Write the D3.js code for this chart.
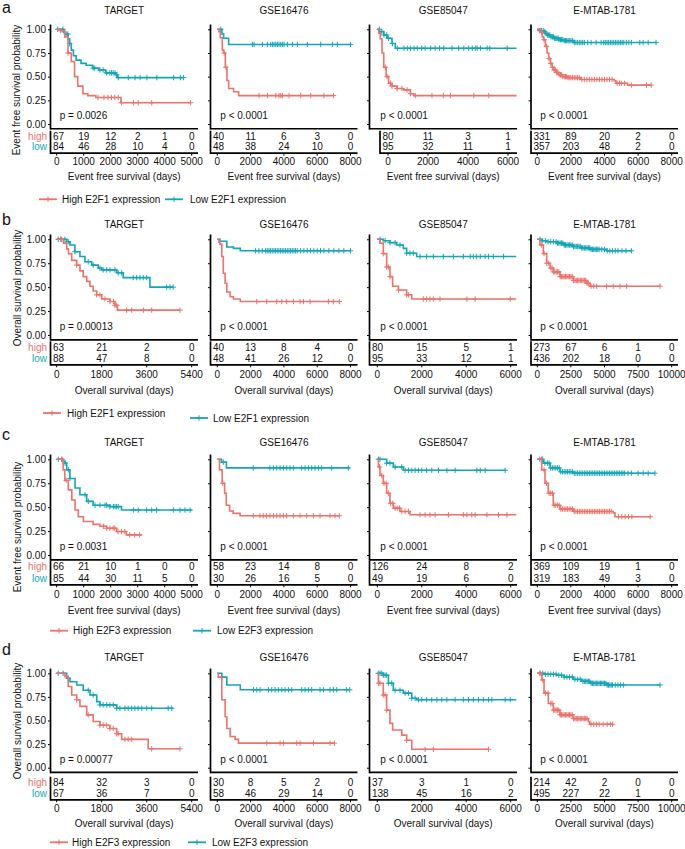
<!DOCTYPE html>
<html><head><meta charset="utf-8">
<script src="https://cdn.jsdelivr.net/npm/d3@7"></script>
<style>body{margin:0;background:#fff} text{font-family:"Liberation Sans",Arial,sans-serif;fill:#111}</style>
</head><body><svg id="c" width="685" height="849"></svg>
<script>
// ---------------- DATA ----------------
const datasets = ["TARGET","GSE16476","GSE85047","E-MTAB-1781"];
const rowLetters = ["a","b","c","d"];
const yTitles = ["Event free survival probability","Overall survival probability","Event free survival probability","Overall survival probability"];
const xTitles = ["Event free survival (days)","Overall survival (days)","Event free survival (days)","Overall survival (days)"];
const legendHigh = ["High E2F1 expression","High E2F1 expression","High E2F3 expression","High E2F3 expression"];
const legendLow = ["Low E2F1 expression","Low E2F1 expression","Low E2F3 expression","Low E2F3 expression"];
const pA = ["p = 0.0026","p < 0.0001","p < 0.0001","p < 0.0001"];
const pB = ["p = 0.00013","p < 0.0001","p < 0.0001","p < 0.0001"];
const pC = ["p = 0.0031","p < 0.0001","p < 0.0001","p < 0.0001"];
const pD = ["p = 0.00077","p < 0.0001","p < 0.0001","p < 0.0001"];
const yTicks = [0,0.25,0.5,0.75,1];

const ticksEFS_T = [0,1000,2000,3000,4000,5000];
const ticksOS_T = [0,1800,3600,5400];
const ticks8k = [0,2000,4000,6000,8000];
const ticks6k = [0,2000,4000,6000];
const ticks10k = [0,2500,5000,7500,10000];

// risk tables
const riskA1 = {high:[67,19,12,2,1,0], low:[84,46,28,10,4,0]};
const riskA2 = {high:[40,11,6,3,0], low:[48,38,24,10,0]};
const riskA3 = {high:[80,11,3,1], low:[95,32,11,1]};
const riskA4 = {high:[331,89,20,2,0], low:[357,203,48,2,0]};
const riskB1 = {high:[63,21,2,0], low:[88,47,8,0]};
const riskB2 = {high:[40,13,8,4,0], low:[48,41,26,12,0]};
const riskB3 = {high:[80,15,5,1], low:[95,33,12,1]};
const riskB4 = {high:[273,67,6,1,0], low:[436,202,18,0,0]};
const riskC1 = {high:[66,21,10,1,0,0], low:[85,44,30,11,5,0]};
const riskC2 = {high:[58,23,14,8,0], low:[30,26,16,5,0]};
const riskC3 = {high:[126,24,8,2], low:[49,19,6,0]};
const riskC4 = {high:[369,109,19,1,0], low:[319,183,49,3,0]};
const riskD1 = {high:[84,32,3,0], low:[67,36,7,0]};
const riskD2 = {high:[30,8,5,2,0], low:[58,46,29,14,0]};
const riskD3 = {high:[37,3,1,0], low:[138,45,16,2]};
const riskD4 = {high:[214,42,2,0,0], low:[495,227,22,1,0]};

// KM steps [time, survival after time]; last time of follow-up; censor times
const A1H = [[0,1],[150,0.985],[300,0.92],[420,0.75],[540,0.66],[660,0.50],[780,0.40],[970,0.32],[1150,0.30],[1450,0.28],[2380,0.225]];
const A1H_end = 4960, A1H_cens = [150,420,1530,1750,1900,2030,2150,2280,2400,2840,3020,3520,4960];
const A1L = [[0,1],[250,0.97],[300,0.95],[420,0.90],[480,0.85],[540,0.78],[620,0.72],[720,0.675],[900,0.64],[1090,0.62],[1330,0.59],[1560,0.57],[1810,0.54],[2180,0.52],[2240,0.49]];
const A1L_end = 4700, A1L_cens = [40,230,350,410,480,1350,1410,1600,1720,1850,1970,2030,2090,2160,2220,2280,2650,2900,3090,3340,3710,4330,4580,4700];
const A2H = [[0,1],[100,0.975],[180,0.91],[300,0.78],[380,0.75],[480,0.60],[580,0.46],[680,0.375],[980,0.34],[1280,0.30]];
const A2H_end = 6980, A2H_cens = [410,510,2510,3010,3510,3710,3810,3910,4310,5010,5610,6400,6980];
const A2L = [[0,1],[280,0.95],[380,0.905],[680,0.84]];
const A2L_end = 8000, A2L_cens = [210,2110,2210,2710,3010,3210,3310,3410,3510,3610,3710,3810,3910,4010,4210,4510,4810,5410,6210,6910,7210,8000];
const A3H = [[0,1],[60,0.96],[135,0.90],[210,0.75],[290,0.60],[400,0.50],[510,0.43],[660,0.40],[890,0.375],[1180,0.36],[1490,0.32],[1640,0.30]];
const A3H_end = 6260, A3H_cens = [360,440,590,660,890,1110,1340,1490,1710,2460,2970,3290,4340,5010];
const A3L = [[0,1],[100,0.975],[290,0.94],[440,0.905],[660,0.85],[810,0.80]];
const A3L_end = 6260, A3L_cens = [90,200,300,420,500,680,900,1200,1350,1500,1650,1800,2000,2150,2400,2600,2800,2990,3360,3660,3890,4110,4270,4410,4490,4640,4940,5060,5840];
const A4H = [[0,1],[180,0.97],[300,0.92],[380,0.89],[480,0.82],[580,0.75],[680,0.69],[780,0.64],[880,0.60],[980,0.57],[1130,0.545],[1280,0.52],[1500,0.50],[1780,0.49],[2580,0.47],[4580,0.457],[4680,0.43],[5380,0.41]];
const A4H_end = 6780, A4H_cens = [250,400,550,700,800,900,1000,1080,1150,1220,1300,1380,1450,1520,1600,1680,1750,1830,1900,2000,2100,2200,2300,2400,2500,2650,2800,2950,3100,3250,3400,3550,3700,3850,4000,4150,4300,4450,4750,4900,5000,5200,5600,6500,6780];
const A4L = [[0,1],[150,0.985],[380,0.975],[480,0.955],[580,0.94],[780,0.92],[980,0.905],[1280,0.89],[1580,0.88],[2180,0.86]];
const A4L_end = 7070, A4L_cens = [150,250,350,450,520,600,680,750,820,900,960,1030,1100,1170,1240,1300,1380,1450,1520,1600,1680,1750,1830,1900,2000,2100,2200,2300,2400,2500,2600,2700,2800,3000,3200,3500,3800,3950,4050,4150,4250,4350,4450,4550,4650,4750,4850,4950,5050,5150,5300,5450,5600,6100,6300,6600,7070];

const B1H = [[0,1],[270,0.96],[400,0.90],[470,0.85],[600,0.78],[800,0.73],[930,0.67],[1060,0.61],[1200,0.56],[1330,0.51],[1460,0.46],[1600,0.42],[1800,0.376],[2130,0.35],[2330,0.31],[2430,0.26]];
const B1H_end = 4930, B1H_cens = [150,800,1600,1730,1930,2130,2270,2330,2400,2800,3000,3470,3800,4930];
const B1L = [[0,1],[400,0.975],[530,0.94],[730,0.87],[930,0.82],[1130,0.766],[1400,0.73],[1660,0.70],[1800,0.68],[2400,0.65],[2660,0.60],[3730,0.50]];
const B1L_end = 4660, B1L_cens = [60,200,330,460,730,1260,1460,1730,1860,2000,2130,2330,2460,2600,3060,3200,3330,3460,3600,4400,4530,4660];
const B2H = [[0,1],[100,0.97],[160,0.95],[270,0.82],[360,0.645],[470,0.54],[570,0.45],[770,0.40],[970,0.376],[1380,0.35]];
const B2H_end = 7330, B2H_cens = [2370,2970,3570,3870,4170,4570,4970,5170,5570,6670,6970,7330];
const B2L = [[0,1],[160,0.98],[570,0.92],[970,0.905],[1380,0.88]];
const B2L_end = 8000, B2L_cens = [2300,2500,2700,2900,3000,3100,3200,3300,3400,3500,3600,3700,3800,3900,4000,4100,4200,4300,4400,4500,4600,4700,4800,5000,5200,5400,5600,5800,6000,6200,6400,6700,7000,7300,7600,8000];
const B3H = [[0,1],[120,0.96],[270,0.85],[420,0.71],[570,0.61],[690,0.51],[950,0.47],[1320,0.42],[1550,0.376]];
const B3H_end = 6250, B3H_cens = [270,420,495,570,950,1320,1400,2070,2220,2370,2520,2820,4030,4400,5980];
const B3L = [[0,1],[270,0.985],[570,0.965],[870,0.94],[1170,0.905],[1320,0.855],[1770,0.82]];
const B3L_end = 6250, B3L_cens = [120,350,570,800,1020,1320,1470,1620,1920,2220,2520,2970,3420,3870,4180,4320,4470,4630,4850,5000,5220,5680];
const B4H = [[0,1],[200,0.94],[450,0.85],[700,0.75],[950,0.70],[1190,0.66],[1690,0.61],[2680,0.57],[3680,0.54],[3920,0.51]];
const B4H_end = 9130, B4H_cens = [300,500,700,850,1000,1100,1200,1300,1400,1500,1600,1700,1800,1900,2000,2100,2200,2300,2400,2500,2600,2700,2800,2900,3000,3100,3200,3300,3400,3500,3600,3700,3800,4000,4200,4420,5160,5650,6150,6650,9130];
const B4L = [[0,1],[300,0.985],[700,0.975],[1440,0.96],[2000,0.94],[2680,0.925],[3300,0.91],[3920,0.895],[5160,0.88]];
const B4L_end = 7000, B4L_cens = [200,400,600,800,1000,1200,1400,1500,1600,1700,1800,1900,2000,2100,2200,2300,2400,2500,2600,2700,2800,2900,3000,3100,3200,3300,3400,3500,3600,3700,3800,3900,4000,4100,4200,4300,4400,4500,4600,4800,5000,5200,5400,5600,5800,6000,6300,6600,7000];

const C1H = [[0,1],[240,0.89],[300,0.78],[430,0.68],[560,0.575],[680,0.47],[800,0.40],[990,0.35],[1350,0.32],[1600,0.30],[1850,0.28],[2220,0.245],[2580,0.21]];
const C1H_end = 3150, C1H_cens = [200,350,1730,1850,1970,2090,2150,2270,2400,2520,2700,2890,3070];
const C1L = [[0,1],[200,0.98],[310,0.96],[370,0.89],[490,0.80],[680,0.70],[860,0.63],[1110,0.56],[1350,0.52],[1970,0.505],[2400,0.47]];
const C1L_end = 5000, C1L_cens = [60,190,310,430,490,1050,1170,1420,1600,1790,1850,1970,2100,2160,2220,2280,2840,3020,3330,3520,3700,4320,4570,4750,4940];
const C2H = [[0,1],[130,0.89],[290,0.75],[440,0.645],[540,0.52],[740,0.46],[950,0.435],[1370,0.41]];
const C2H_end = 7330, C2H_cens = [330,2160,2560,2760,2960,3160,3370,3570,3770,3970,4170,4570,4970,5370,5770,6170,6770,7070,7330];
const C2L = [[0,1],[250,0.97],[550,0.91]];
const C2L_end = 7950, C2L_cens = [360,2160,3160,3370,3570,3770,3970,4170,4370,4570,5070,5270,5470,5670,5870,6070,6270,6870,7870];
const C3H = [[0,1],[50,0.92],[120,0.83],[270,0.75],[420,0.645],[570,0.54],[720,0.49],[1020,0.455],[1470,0.42]];
const C3H_end = 6250, C3H_cens = [100,200,300,400,500,600,700,800,900,1000,1100,1250,1400,1920,2150,2370,2600,3200,3870,4030,4250,4400,4930,5450,5830];
const C3L = [[0,1],[420,0.96],[720,0.92],[1170,0.885]];
const C3L_end = 5750, C3L_cens = [50,120,420,570,800,1100,1250,1400,1550,1700,1850,2000,2220,2450,2750,3130,3500,4480,4630,4850,5750];
const C4H = [[0,1],[260,0.89],[460,0.75],[650,0.645],[950,0.52],[1350,0.48],[2140,0.455],[4520,0.44],[4620,0.40]];
const C4H_end = 6740, C4H_cens = [250,400,550,700,800,900,1000,1100,1200,1300,1400,1500,1600,1700,1800,1900,2000,2100,2200,2300,2400,2500,2600,2700,2800,2900,3000,3100,3200,3300,3400,3500,3600,3700,3800,3900,4000,4100,4200,4300,4400,4830,5030,5230,5430,5630,6720];
const C4L = [[0,1],[360,0.96],[760,0.91],[1350,0.87],[2140,0.855]];
const C4L_end = 7000, C4L_cens = [150,300,450,600,700,800,900,1000,1100,1200,1300,1400,1500,1600,1700,1800,1900,2000,2100,2200,2300,2400,2500,2600,2700,2800,2900,3000,3100,3200,3300,3400,3500,3600,3700,3800,3900,4000,4100,4200,4300,4400,4500,4600,4700,4800,4900,5000,5100,5200,5400,5600,6000,6300,6600,7000];

const D1H = [[0,1],[330,0.965],[460,0.86],[600,0.77],[800,0.72],[930,0.65],[1200,0.56],[1460,0.49],[1730,0.45],[2130,0.415],[2400,0.36],[2600,0.30],[3660,0.20]];
const D1H_end = 4930, D1H_cens = [800,1260,1730,1860,2000,2130,2260,2400,2460,2730,2860,3000,3800,4930];
const D1L = [[0,1],[400,0.947],[530,0.91],[800,0.876],[1060,0.82],[1330,0.77],[1600,0.70],[1730,0.665],[2400,0.63]];
const D1L_end = 4660, D1L_cens = [60,260,460,1260,1460,1730,1860,2000,2130,2260,2400,2530,2730,2860,3000,3130,3260,3400,3600,3800,4460,4600];
const D2H = [[0,1],[60,0.96],[270,0.72],[470,0.54],[570,0.415],[770,0.33],[1070,0.30],[1270,0.26]];
const D2H_end = 7030, D2H_cens = [2970,3770,3970,4770,4970,5770,6770,7030];
const D2L = [[0,1],[270,0.96],[570,0.876],[1380,0.825]];
const D2L_end = 7950, D2L_cens = [270,2170,2370,2570,3070,3270,3470,3670,3870,4070,4270,4470,5070,5270,5470,5670,6170,6370,6770,6970,7170,7770,7950];
const D3H = [[0,1],[50,0.895],[270,0.77],[420,0.61],[570,0.47],[690,0.40],[1100,0.345],[1320,0.29],[1550,0.195]];
const D3H_end = 5000, D3H_cens = [50,120,270,350,420,1320,2150,2520,5000];
const D3L = [[0,1],[270,0.98],[500,0.895],[720,0.82],[1170,0.79],[1550,0.735],[1770,0.72]];
const D3L_end = 6250, D3L_cens = [45,120,200,270,350,420,500,650,800,1020,1250,1400,1550,1700,1850,2000,2220,2450,2680,2900,3130,3500,3870,4100,4320,4550,4770,5000,5150,5750,5980];
const D4H = [[0,1],[330,0.93],[500,0.79],[820,0.68],[1190,0.61],[1690,0.56],[2680,0.52],[3800,0.49],[3900,0.46]];
const D4H_end = 5600, D4H_cens = [200,400,600,800,1000,1100,1200,1300,1400,1500,1600,1700,1800,1900,2000,2100,2200,2300,2400,2500,2600,2700,2800,2900,3000,3100,3200,3300,3400,3500,3600,3700,4000,4200,4400,4600,4900,5200,5450,5600];
const D4L = [[0,1],[500,0.99],[1440,0.98],[2000,0.96],[2680,0.936],[3300,0.915],[3920,0.894],[5160,0.876]];
const D4L_end = 9130, D4L_cens = [200,400,600,800,1000,1200,1400,1600,1800,2000,2200,2400,2600,2800,3000,3200,3400,3500,3600,3700,3800,3900,4000,4100,4200,4300,4400,4500,4600,4700,4800,4900,5000,5100,5200,5300,5400,5500,5600,5800,6000,6200,6400,9130];

// ---------------- LAYOUT ----------------
const RED = "#EA736B", TEAL = "#15A6B5";
const COLS = [
  {x0:50.5, x1:198, z:56.7, l:191.7},
  {x0:210.5, x1:357.5, z:217.3, l:350.5},
  {x0:369.5, x1:517, z:377.3, l:510.7},
  {x0:531, x1:678, z:537.3, l:671.7}
];
// table scale that differs from the plot scale (row a, GSE85047)
const tableOverride = {"0-2": {x0:380, z:388, l:508}};
const ROWS = [
  {letterY:13, title:10, y1:29.3, y0:124, hi:136.7, lo:146.7, tick:161.7, xt:176.7, legY:[199.3,199.3], legX:[39,62,165,190], ytY:90, ytX:16},
  {letterY:225, title:224, y1:239.3, y0:335, hi:347.3, lo:358.3, tick:374, xt:390, legY:[413,418], legX:[43,67,190,213], ytY:288, ytX:17},
  {letterY:440, title:442.7, y1:459.3, y0:555, hi:566.7, lo:578.3, tick:594, xt:610, legY:[630.7,630.7], legX:[50,73,193,217], ytY:527, ytX:17},
  {letterY:655, title:657.3, y1:673.3, y0:767.7, hi:782.7, lo:793.3, tick:808.3, xt:823.3, legY:[842.3,842.3], legX:[50,72,188,212], ytY:721, ytX:17}
];

const grid = [
  [ {t:ticksEFS_T, r:riskA1, h:[A1H,A1H_end,A1H_cens], w:[A1L,A1L_end,A1L_cens]},
    {t:ticks8k, r:riskA2, h:[A2H,A2H_end,A2H_cens], w:[A2L,A2L_end,A2L_cens]},
    {t:ticks6k, r:riskA3, h:[A3H,A3H_end,A3H_cens], w:[A3L,A3L_end,A3L_cens]},
    {t:ticks8k, r:riskA4, h:[A4H,A4H_end,A4H_cens], w:[A4L,A4L_end,A4L_cens]} ],
  [ {t:ticksOS_T, r:riskB1, h:[B1H,B1H_end,B1H_cens], w:[B1L,B1L_end,B1L_cens]},
    {t:ticks8k, r:riskB2, h:[B2H,B2H_end,B2H_cens], w:[B2L,B2L_end,B2L_cens]},
    {t:ticks6k, r:riskB3, h:[B3H,B3H_end,B3H_cens], w:[B3L,B3L_end,B3L_cens]},
    {t:ticks10k, r:riskB4, h:[B4H,B4H_end,B4H_cens], w:[B4L,B4L_end,B4L_cens]} ],
  [ {t:ticksEFS_T, r:riskC1, h:[C1H,C1H_end,C1H_cens], w:[C1L,C1L_end,C1L_cens]},
    {t:ticks8k, r:riskC2, h:[C2H,C2H_end,C2H_cens], w:[C2L,C2L_end,C2L_cens]},
    {t:ticks6k, r:riskC3, h:[C3H,C3H_end,C3H_cens], w:[C3L,C3L_end,C3L_cens]},
    {t:ticks8k, r:riskC4, h:[C4H,C4H_end,C4H_cens], w:[C4L,C4L_end,C4L_cens]} ],
  [ {t:ticksOS_T, r:riskD1, h:[D1H,D1H_end,D1H_cens], w:[D1L,D1L_end,D1L_cens]},
    {t:ticks8k, r:riskD2, h:[D2H,D2H_end,D2H_cens], w:[D2L,D2L_end,D2L_cens]},
    {t:ticks6k, r:riskD3, h:[D3H,D3H_end,D3H_cens], w:[D3L,D3L_end,D3L_cens]},
    {t:ticks10k, r:riskD4, h:[D4H,D4H_end,D4H_cens], w:[D4L,D4L_end,D4L_cens]} ]
];
const pvals = [pA,pB,pC,pD];

// ---------------- DRAW ----------------
const svg = d3.select("#c");
svg.append("rect").attr("width",685).attr("height",849).attr("fill","#fff");
const FS = 10, AX = 1.7;
const fmt = d3.format(".2f");
function stepAt(steps,t){ let s=steps[0][1]; for(const [tt,ss] of steps){ if(tt<=t) s=ss; } return s; }
const plusPath = "M-2.7,0H2.7M0,-2.7V2.7";

ROWS.forEach((R,ri)=>{
  svg.append("text").attr("x",2).attr("y",R.letterY).attr("font-size",16).text(rowLetters[ri]);
  svg.append("text").attr("transform",`translate(${R.ytX},${R.ytY}) rotate(-90)`)
     .attr("text-anchor","middle").attr("dy","0.35em").attr("font-size",FS).text(yTitles[ri]);
  COLS.forEach((C,ci)=>{
    const P = grid[ri][ci];
    const g = svg.append("g");
    const ticks = P.t;
    const x = d3.scaleLinear().domain([0, ticks[ticks.length-1]]).range([C.z, C.l]);
    const ov = tableOverride[ri+"-"+ci];
    const xt = ov ? d3.scaleLinear().domain([0, ticks[ticks.length-1]]).range([ov.z, ov.l]) : x;
    const tx0 = ov ? ov.x0 : C.x0;
    const y = d3.scaleLinear().domain([0,1]).range([R.y0, R.y1]);
    const yTop = y(1.05), yBot = y(-0.05);
    const cx = (C.x0 + C.x1)/2;
    g.append("text").attr("x",cx).attr("y",R.title).attr("dy","0.35em").attr("text-anchor","middle").attr("font-size",FS).text(datasets[ci]);
    // y axis ticks
    const ya = d3.axisLeft(y).tickValues(yTicks).tickSize(2.5).tickPadding(2).tickFormat(ci===0?fmt:"");
    g.append("g").attr("transform",`translate(${C.x0},0)`).call(ya)
      .call(s=>{s.select(".domain").remove(); s.selectAll("line").attr("stroke","#000").attr("stroke-width",1);
               s.selectAll("text").attr("font-size",FS).attr("font-family","Liberation Sans, Arial, sans-serif").attr("fill","#111");});
    // axis lines
    g.append("line").attr("x1",C.x0).attr("x2",C.x0).attr("y1",yTop).attr("y2",yBot+AX/2).attr("stroke","#000").attr("stroke-width",AX);
    g.append("line").attr("x1",C.x0).attr("x2",C.x1).attr("y1",yBot).attr("y2",yBot).attr("stroke","#000").attr("stroke-width",AX);
    // curves
    const line = d3.line().x(d=>x(d[0])).y(d=>y(d[1])).curve(d3.curveStepAfter);
    [[P.w,TEAL],[P.h,RED]].forEach(([cv,col])=>{
      const [steps,end,cens] = cv;
      const pts = steps.concat([[end, steps[steps.length-1][1]]]);
      g.append("path").attr("d",line(pts)).attr("fill","none").attr("stroke",col).attr("stroke-width",1.6);
      g.selectAll(null).data(cens).enter().append("path")
        .attr("transform",t=>`translate(${x(t)},${y(stepAt(steps,t))})`)
        .attr("d",plusPath).attr("stroke",col).attr("stroke-width",1).attr("fill","none");
    });
    // p value
    g.append("text").attr("x",C.z+3).attr("y",y(0.085)).attr("dy","0.35em").attr("font-size",FS).text(pvals[ri][ci]);
    // risk table
    const tTop = R.hi - 6, tBot = R.lo + 6.5;
    g.append("line").attr("x1",tx0).attr("x2",tx0).attr("y1",tTop).attr("y2",tBot+AX/2).attr("stroke","#000").attr("stroke-width",AX);
    g.append("line").attr("x1",tx0).attr("x2",C.x1).attr("y1",tBot).attr("y2",tBot).attr("stroke","#000").attr("stroke-width",AX);
    [["high",P.r.high,R.hi,RED],["low",P.r.low,R.lo,TEAL]].forEach(([lab,vals,yy,col])=>{
      if(ci===0) g.append("text").attr("x",C.x0-3.5).attr("y",yy).attr("dy","0.35em").attr("text-anchor","end").attr("font-size",FS).style("fill",col).text(lab);
      g.selectAll(null).data(vals).enter().append("text")
        .attr("x",(d,i)=> i===0 ? tx0+2.5 : xt(ticks[i])).attr("y",yy).attr("dy","0.35em")
        .attr("text-anchor",(d,i)=> i===0 ? "start" : "middle").attr("font-size",FS).text(d=>d);
    });
    // x ticks
    g.selectAll(null).data(ticks).enter().append("line")
      .attr("x1",d=>xt(d)).attr("x2",d=>xt(d)).attr("y1",tBot).attr("y2",tBot+2.5).attr("stroke","#000").attr("stroke-width",1);
    g.selectAll(null).data(ticks).enter().append("text")
      .attr("x",d=>xt(d)).attr("y",R.tick).attr("dy","0.35em").attr("text-anchor","middle").attr("font-size",FS).text(d=>d);
    g.append("text").attr("x",cx).attr("y",R.xt).attr("dy","0.35em").attr("text-anchor","middle").attr("font-size",FS).text(xTitles[ri]);
  });
  // legend
  [[RED,legendHigh[ri],R.legX[0],R.legX[1],R.legY[0]],[TEAL,legendLow[ri],R.legX[2],R.legX[3],R.legY[1]]].forEach(([col,txt,lx,tx,ly])=>{
    svg.append("line").attr("x1",lx).attr("x2",lx+18).attr("y1",ly).attr("y2",ly).attr("stroke",col).attr("stroke-width",1.8);
    svg.append("path").attr("transform",`translate(${lx+9},${ly})`).attr("d",plusPath).attr("stroke",col).attr("stroke-width",1);
    svg.append("text").attr("x",tx).attr("y",ly).attr("dy","0.35em").attr("font-size",FS).text(txt);
  });
});
</script></body></html>
